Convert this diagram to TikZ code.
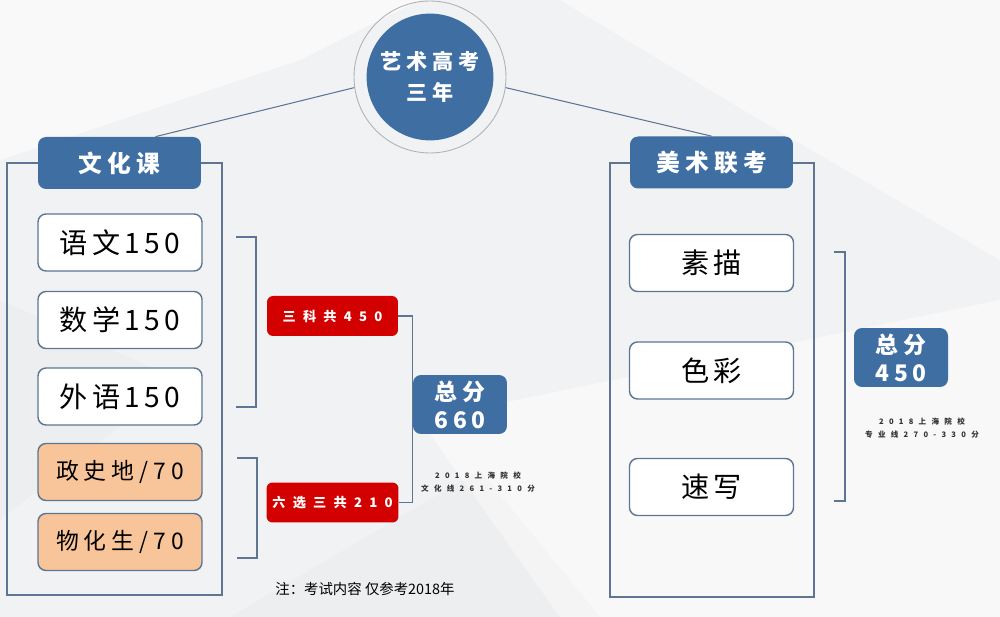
\documentclass[tikz,border=0pt]{standalone}
\usepackage{fontspec}
\setmainfont{Noto Sans CJK SC}
\newfontfamily\boxfont[LetterSpace=16]{Noto Sans CJK SC}
\newfontfamily\choicefont[LetterSpace=22]{Noto Sans CJK SC}
\newfontfamily\headfont[LetterSpace=22]{Noto Sans CJK SC}
\newfontfamily\redfont[LetterSpace=55]{Noto Sans CJK SC}
\newfontfamily\tinyfont[LetterSpace=70]{Noto Sans CJK SC}
\usetikzlibrary{calc}
\definecolor{kblue}{HTML}{3E6EA2}
\definecolor{kred}{HTML}{D30000}
\definecolor{korange}{HTML}{F8C49A}
\definecolor{kline}{HTML}{5E7691}
\definecolor{kbg}{HTML}{F1F2F4}
\tikzset{
  subject/.style={draw=kline, line width=0.8pt, rounded corners=0.16cm, fill=white,
    minimum width=3.28cm, minimum height=1.14cm, font=\boxfont\fontsize{16}{18}\selectfont},
  choice/.style={subject, fill=korange, font=\choicefont\fontsize{13}{15}\selectfont},
  header/.style={fill=kblue, rounded corners=0.16cm, text=white, minimum width=3.26cm,
    minimum height=1.04cm, font=\headfont\bfseries\fontsize{13.5}{15}\selectfont},
  redbox/.style={fill=kred, rounded corners=0.12cm, text=white, minimum width=2.62cm,
    minimum height=0.8cm, font=\redfont\bfseries\fontsize{7.5}{9}\selectfont},
  total/.style={fill=kblue, rounded corners=0.16cm, text=white, minimum width=1.88cm,
    minimum height=1.18cm, align=center, inner sep=1pt,
    font=\headfont\bfseries\fontsize{13}{16}\selectfont},
  note/.style={align=center, text=black!80, font=\tinyfont\bfseries\fontsize{4.3}{7}\selectfont},
  frame/.style={draw=kline, line width=0.9pt},
  bracket/.style={draw=kline, line width=0.7pt}
}
\begin{document}
\begin{tikzpicture}[x=0.02cm, y=-0.02cm]
\useasboundingbox (0,0) rectangle (1000,617);
\fill[kbg] (0,0) rectangle (1000,617);
\fill[white, opacity=.6] (0,0) -- (420,0) -- (300,60) -- (0,160) -- cycle;
\fill[white, opacity=.5] (560,0) -- (1000,0) -- (1000,260) -- (760,120) -- cycle;
\fill[black, opacity=.015] (0,300) -- (180,380) -- (0,520) -- cycle;
\fill[white, opacity=.5] (420,420) -- (1000,300) -- (1000,617) -- (560,617) -- cycle;
\fill[black, opacity=.015] (230,617) -- (480,470) -- (600,617) -- cycle;

\node[circle, draw=black!30, line width=0.5pt, minimum size=3.04cm] (ring) at (430,77) {};
\node[circle, fill=kblue, minimum size=2.44cm, align=center, text=white,
  font=\headfont\bfseries\fontsize{12}{18}\selectfont] (art) at (430,77) {艺术高考\\三年};

\draw[frame] (38,163) -| (7,595) -| (222,163) -- (201,163);
\draw[frame] (630,163) -| (610,597) -| (814,163) -- (793,163);

\node[header] (wenhua) at (119.5,163) {文化课};
\node[header] (meishu) at (711.5,162.5) {美术联考};

\draw[kline, line width=0.6pt] (ring.188) -- ($(wenhua.north)+(36,0)$);
\draw[kline, line width=0.6pt] (ring.352) -- (meishu.north);

\node[subject] (yuwen) at (120,242.5) {语文150};
\node[subject] (shuxue) at (120,320) {数学150};
\node[subject] (waiyu) at (120,396.5) {外语150};
\node[choice] (zhengshi) at (120,472) {政史地/70};
\node[choice] (wuhua) at (120,542) {物化生/70};

\draw[bracket] (236,237) -- (256,237) -- (256,407) -- (236,407);
\draw[bracket] (237,458) -- (257,458) -- (257,558) -- (237,558);

\node[redbox] (sanke) at (332.5,316) {三科共450};
\node[redbox] (liuxuan) at (332.5,502.5) {六选三共210};
\node[total] (zong1) at (460,404.5) {总分\\660};
\draw[bracket] (sanke.east) -| (zong1.west) |- (liuxuan.east);
\node[note] (line1) at (478,482) {2018上海院校\\文化线261-310分};

\node[subject] (sumiao) at (711.5,263) {素描};
\node[subject] (secai) at (711.5,370.5) {色彩};
\node[subject] (suxie) at (711.5,487) {速写};
\draw[bracket] (834,252) -- (845,252) -- (845,501) -- (834,501);
\node[total] (zong2) at (901,357.5) {总分\\450};
\node[note] (line2) at (922,428) {2018上海院校\\专业线270-330分};

\node[font=\fontsize{8.2}{9}\selectfont] (zhu) at (365,589) {注：考试内容 仅参考2018年};
\end{tikzpicture}
\end{document}
